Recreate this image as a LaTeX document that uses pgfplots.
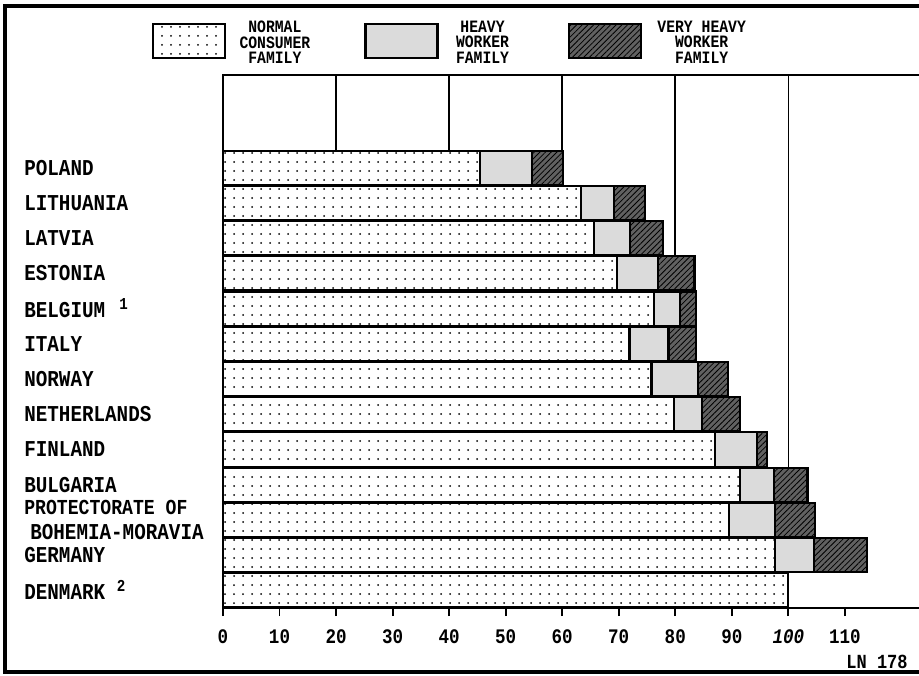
\documentclass[border=0pt]{standalone}
\usepackage{pgfplots}
\pgfplotsset{compat=1.18}
\usepackage{pgfplotstable}
\usetikzlibrary{patterns.meta}
\usepackage{fontspec}
\setmainfont{Liberation Mono}[FakeStretch=0.85]

% cost of living index by family type, rows from the bottom (Denmark) up
\pgfplotstableread{
y  normal heavy vheavy
0  100.0  0.0   0.0
1  97.6   7.0   9.3
2  89.5   8.1   7.1
3  91.5   6.0   5.9
4  87.1   7.4   1.7
5  79.7   5.1   6.6
6  75.8   8.2   5.4
7  71.9   6.9   4.9
8  76.3   4.6   2.8
9  69.7   7.2   6.5
10 65.7   6.3   5.8
11 63.4   5.7   5.6
12 45.5   9.1   5.5
}\cost

\begin{document}
\bfseries
\begin{tikzpicture}
\useasboundingbox (0pt,0pt) rectangle (689.25pt,-506.25pt);
\draw[line width=3.5pt] (697.5pt,-4.5pt) -- (3.75pt,-4.5pt) -- (3.75pt,-504pt) -- (697.5pt,-504pt);
\begin{axis}[
    xbar stacked,
    scale only axis,
    width=525.75pt, height=399.75pt,
    anchor=south west, at={(167.25pt,-456pt)},
    xmin=0, xmax=124, ymin=-0.5, ymax=14.63,
    bar width=0.97,
    clip=false,
    axis line style={line width=2pt},
    xtick={0,10,...,110},
    xticklabels={0,10,20,30,40,50,60,70,80,90,\textit{100},110},
    xtick pos=bottom,
    tick align=outside,
    major tick length=6pt,
    every tick/.style={black, line width=1.4pt},
    xticklabel style={font=\fontsize{15.5}{16}\selectfont, yshift=-6.5pt},
    ytick={0,...,12},
    yticklabels={DENMARK\ \raisebox{6pt}{\fontsize{12.5}{12}\selectfont 2},
        GERMANY,
        {\fontsize{16}{14.5pt}\selectfont PROTECTORATE OF\\[4pt]\hspace*{4.5pt}BOHEMIA-MORAVIA},
        BULGARIA, FINLAND, NETHERLANDS, NORWAY, ITALY,
        BELGIUM\ \hspace{2pt}\raisebox{6pt}{\fontsize{12.5}{12}\selectfont 1},
        ESTONIA, LATVIA, LITHUANIA, POLAND},
    ytick style={draw=none},
    yticklabel style={anchor=west, inner sep=0pt, xshift=-143.25pt, align=left,
        font=\fontsize{17}{14.5pt}\selectfont},
    extra x ticks={20,40,60,80,100},
    extra x tick labels={},
    extra x tick style={grid=major, major tick length=0pt},
    major grid style={black, line width=1.2pt},
    legend image code/.code={\draw[#1, line width=1.6pt] (0pt,-17.25pt) rectangle (54pt,8.25pt);},
    legend style={at={(-0.10128,1.0657)}, anchor=west, draw=none, fill=none,
        inner sep=0pt, legend columns=3, nodes={inner sep=0pt},
        font=\fontsize{13}{11.5pt}\selectfont,
        /tikz/every odd column/.append style={column sep=3pt},
        /tikz/every even column/.append style={column sep=33.75pt}},
]
\addplot[draw=black, line width=1.6pt, fill=white,
    postaction={pattern={Dots[distance=6.75pt, radius=0.75pt]}, pattern color=black}]
    table[x=normal, y=y] {\cost};
\addlegendentry{\parbox{66.75pt}{\centering NORMAL\\CONSUMER\\FAMILY}}
\addplot[draw=black, line width=1.6pt, fill=black!14]
    table[x=heavy, y=y] {\cost};
\addlegendentry{\parbox{60pt}{\centering HEAVY\\WORKER\\FAMILY}}
\addplot[draw=black, line width=1.6pt, fill=black!62,
    postaction={pattern={Lines[angle=45, distance=3pt, line width=0.6pt]}, pattern color=black}]
    table[x=vheavy, y=y] {\cost};
\addlegendentry{\parbox{84pt}{\centering VERY HEAVY\\WORKER\\FAMILY}}
\end{axis}
\node[font=\fontsize{15}{15}\selectfont] at (657.75pt,-496.5pt) {LN 178};
\end{tikzpicture}
\end{document}
